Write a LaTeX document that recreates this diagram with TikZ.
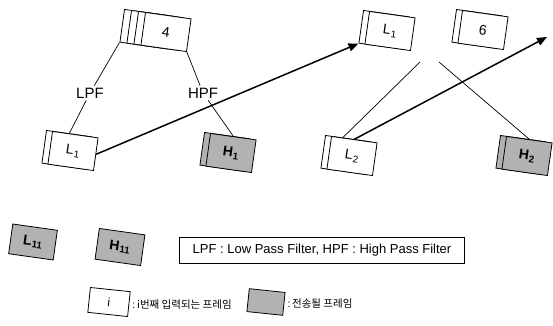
\documentclass[tikz,border=0pt]{standalone}
\usepackage{fontspec}
\setsansfont{Liberation Sans}
\newfontfamily\kr{Noto Sans CJK KR}
\usetikzlibrary{arrows.meta,calc}
\tikzset{
  frm/.style={draw, line width=0.8pt, minimum width=46pt, minimum height=33pt,
              fill=white, inner sep=0pt, font=\sffamily\fontsize{14}{16}\selectfont},
  dk/.style={fill=gray!60, font=\sffamily\bfseries\fontsize{14}{16}\selectfont},
  lbl/.style={font=\sffamily\fontsize{15}{17}\selectfont, inner sep=2pt},
  conn/.style={line width=0.7pt},
  sendarrow/.style={line width=1.5pt, -{Triangle[length=10pt,width=8pt]}},
  leg/.style={font=\kr\fontsize{10.5}{12}\selectfont, anchor=west, inner sep=1pt}
}
% #1 extra options, #2 name, #3 position, #4 angle, #5 text
\newcommand\myfrm[5][]{%
  \begin{scope}[shift={#3}, rotate=#4, transform shape]
    \node[frm,#1] (#2) at (0,0) {#5};
  \end{scope}}
\begin{document}
\begin{tikzpicture}[x=1pt,y=1pt]
\useasboundingbox (0,0) rectangle (553,-325);
% top stack "4"
\myfrm{s4c}{(145,-29)}{-8}{}
\myfrm{s4b}{(152,-30)}{-8}{}
\myfrm{s4a}{(159,-31)}{-8}{}
\myfrm{s4}{(166,-32)}{-8}{4}
% left L1 and H1
\myfrm{L1b}{(67,-150)}{-8}{}
\myfrm{L1}{(73,-151)}{-8}{L\kern0.5pt\textsubscript{1}}
\myfrm[dk]{H1b}{(225,-152)}{-8}{}
\myfrm[dk]{H1}{(231,-153)}{-8}{H\kern0.5pt\textsubscript{1}}
% right group
\myfrm{R1b}{(384,-30)}{-8}{}
\myfrm{R1}{(390,-31)}{-8}{L\kern0.5pt\textsubscript{1}}
\myfrm{s6b}{(477,-29)}{-8}{}
\myfrm{s6}{(483,-30)}{-8}{6}
\myfrm{L2b}{(346,-155)}{-8}{}
\myfrm{L2}{(352,-156)}{-8}{L\kern0.5pt\textsubscript{2}}
\myfrm[dk]{H2b}{(521,-155)}{-8}{}
\myfrm[dk]{H2}{(527,-156)}{-8}{H\kern0.5pt\textsubscript{2}}
% filter labels
\node[lbl] (lpf) at (90,-93) {LPF};
\node[lbl] (hpf) at (203,-93) {HPF};
\draw[conn] (s4c.south west) -- (lpf);
\draw[conn] (lpf) -- (L1b.north);
\draw[conn] (s4.south east) -- (hpf);
\draw[conn] (hpf) -- (H1.north);
\coordinate (c1) at (420,-62);
\coordinate (c2) at (439,-62);
\coordinate (a2) at (547,-37);
\draw[conn] (c1) -- ($(L2.north west)!0.5!(L2.north)$);
\draw[conn] (c2) -- (H2.north);
\draw[sendarrow] (L1.east) -- (R1b.south west);
\draw[sendarrow] (L2.north) -- (a2);
% bottom frames
\myfrm[dk,minimum width=45pt,minimum height=30pt]{L11}{(33,-242)}{-8}{L\kern0.5pt\textsubscript{11}}
\myfrm[dk,minimum width=46pt,minimum height=31pt]{H11}{(120,-247)}{-8}{H\kern0.5pt\textsubscript{11}}
\node[draw, line width=0.8pt, minimum width=285pt, minimum height=26pt,
      font=\sffamily\fontsize{13}{15}\selectfont] (note) at (322,-250)
      {LPF : Low Pass Filter, HPF : High Pass Filter};
% legend
\myfrm[minimum width=40pt, minimum height=25pt, font=\sffamily\fontsize{12}{14}\selectfont]{legi}{(109,-302)}{-6}{i}
\node[leg] (legit) at ($(legi.east)+(2,0)$) {\sffamily :\,\kr i번째 입력되는 프레임};
\myfrm[dk, minimum width=36pt, minimum height=23pt]{legs}{(266,-302)}{-6}{}
\node[leg] (legst) at ($(legs.east)+(2,0)$) {\sffamily :\,\kr 전송될 프레임};
\end{tikzpicture}
\end{document}
